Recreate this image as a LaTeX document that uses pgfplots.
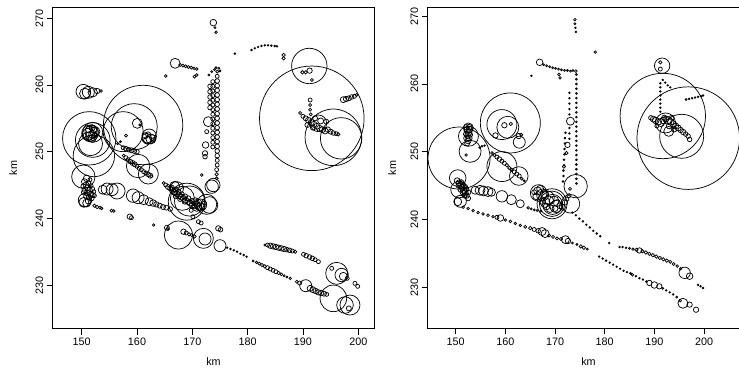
\documentclass[border=0pt]{standalone}
\usepackage{fontspec}
\setmainfont{Liberation Sans}
\usepackage{pgfplots}
\usepackage{pgfplotstable}
\pgfplotsset{compat=1.18}

\pgfplotstableread{
x y r
150.3 259.0 7.3
150.6 258.7 5.5
151.2 258.9 6
152.0 258.9 4.7
152.8 259.1 2.7
153.5 259.1 1.3
151.37 252.0 26.7
152.2 249.35 20.7
152.0 251.75 17.3
151.6 251.2 12
151.5 252.75 8.3
151.8 253.0 6.7
151.6 252.3 5
152.0 252.6 4
151.3 253.3 3.3
151.9 252.0 4
152.2 253.2 3
151.4 252.1 2.5
151.7 253.5 2
152.3 252.4 2.5
151.2 252.6 6
152.0 252.9 10
152.4 253.0 5
151.9 253.6 3
161.1 254.0 39.7
159.5 253.75 23
157.5 253.0 20
160.05 254.25 5
160.5 254.0 1
158.0 252.4 1.5
157.0 251.5 1
156.5 251.2 1
161.75 252.0 5
162.2 252.3 7.3
161.9 251.7 4
162.5 251.9 5
162.8 252.1 3
161.5 252.4 3
162.0 252.6 2.5
163.0 251.8 2
157.5 250.6 2
158.0 250.45 2.3
158.5 250.3 2.3
159.0 250.2 2.5
159.5 250.1 2.5
160.0 250.0 2.3
160.2 247.85 11.7
162.05 246.65 10
157.6 249.4 1.5
158.0 249.1 2
158.4 248.8 2
158.8 248.5 2.3
159.2 248.3 2.5
159.6 248.1 2.5
160.0 247.8 2
160.4 247.5 2
160.8 247.3 2
161.2 247.0 2
161.6 246.8 2
162.0 246.6 2.3
162.4 246.4 2.5
162.6 246.3 1.5
150.3 246.25 11.7
150.6 242.75 6.7
150.4 242.4 5
150.9 242.3 4
151.2 242.6 3
150.5 245.5 3
150.8 245.0 3
151.1 244.6 3
150.6 244.3 3
151.4 244.2 3
151.0 243.8 3
151.6 243.6 3
150.8 243.3 2.5
151.3 243.2 2.5
151.8 243.0 2.5
152.0 243.5 2.5
151.9 244.4 2.5
152.3 243.4 2
151.2 245.3 2.5
150.9 246.0 3.3
151.5 245.8 2
152.2 244.0 2
151.7 244.9 2
150.3 244.8 2.5
150.4 243.9 2.5
152.3 241.9 1.7
152.8 241.7 1.7
153.3 241.6 1.5
153.6 241.5 1.3
153.8 244.3 4.5
154.6 244.4 6
155.5 244.3 6
156.4 244.1 8
159.3 243.4 6.7
160.2 243.1 6
161.2 242.8 5
162.2 242.5 4
162.9 242.3 3.3
163.5 242.1 2.7
164.1 241.9 2.5
164.7 241.7 2.5
165.3 241.6 2.5
166.0 241.4 2.3
155.4 241.15 1.5
155.8 241.1 1.3
158.7 240.25 2.7
159.0 240.1 2
163.0 239.0 1.3
165.4 238.6 2.5
165.6 238.4 1.5
169.0 242.5 18.5
169.5 242.6 15
168.2 243.0 12
173.1 242.0 8.3
172.6 242.1 10
173.5 244.75 6.7
171.5 242.0 6
170.8 241.8 5
170.5 242.5 4
171.0 242.3 4
167.2 244.5 6.7
166.8 244.8 5
164.8 245.3 1.5
165.2 245.0 2
165.6 244.7 2.5
166.0 244.5 2.5
166.4 244.2 3
166.8 243.9 3
167.2 243.7 3
167.6 243.4 3
168.0 243.2 3
168.4 243.0 3
168.8 242.7 3
169.2 242.5 3
169.6 242.3 3
170.0 242.0 3
170.4 241.8 2.5
166.3 244.6 2.5
166.9 244.3 2.5
167.5 244.0 2.5
168.1 243.6 2.5
168.7 243.3 2.5
169.3 243.0 2.5
169.9 242.6 2.5
170.5 242.2 2.5
167.0 243.3 2.5
167.8 242.9 2.5
168.6 242.5 2.5
170.9 241.9 3
171.3 241.6 2.5
171.8 241.8 3
172.2 242.3 2
169.8 241.2 2
170.1 240.25 2
167.5 237.5 14
168.4 238.0 2.7
168.9 237.8 2
169.4 237.6 1.7
169.9 237.5 1.7
170.4 237.3 1.7
172.0 237.0 10
172.3 236.9 6
174.7 238.5 2.7
175.1 238.3 2.3
175.0 235.9 6
171.1 239.5 2
171.6 239.3 2
176.3 235.6 0.8
176.9 235.4 0.8
177.5 235.2 0.8
178.1 235.0 0.8
178.7 234.7 0.8
179.3 234.5 0.8
179.8 234.25 0.8
181.0 233.6 1
181.6 233.4 1.3
182.1 233.2 1.5
182.6 233.0 1.7
183.1 232.8 1.7
183.6 232.6 2
184.1 232.4 2
184.6 232.2 2
185.1 232.0 2
185.6 231.8 1.7
186.1 231.6 1.3
186.6 231.4 1
187.1 231.2 1
187.7 231.0 1.3
183.1 236.0 1
183.6 236.0 2
184.1 235.9 2.7
184.6 235.8 2.7
185.1 235.7 2.7
185.6 235.6 2.7
186.1 235.5 2.7
186.6 235.4 2.7
187.1 235.3 2.3
187.6 235.2 2.3
188.1 235.1 2
188.6 235.0 1.7
190.1 234.6 2
190.6 234.4 2.3
191.2 234.2 2.3
191.7 234.0 2.3
192.2 233.8 2
192.8 233.5 2
188.9 230.5 1.5
189.4 230.3 2
190.5 229.9 6
191.3 229.5 3
191.8 229.3 3
192.3 229.1 2.7
192.8 228.9 2.7
193.3 228.8 2.7
193.8 228.7 2.5
194.3 228.6 2
195.5 228.0 13.3
196.1 231.75 11
197.0 231.5 6.7
197.3 231.3 4
197.6 227.0 8.3
198.5 227.0 10
195.2 232.5 2
198.0 231.0 2
199.4 230.25 2
199.9 229.8 2
198.3 226.5 2.5
174.5 262.0 1.5
174.5 261.3 2
174.5 260.6 2.3
174.5 259.9 2.3
174.5 259.2 2.3
174.5 258.5 2.3
174.5 257.8 2.3
174.5 257.1 2.3
174.5 256.4 2.3
174.5 255.7 2.3
174.5 255.0 2.3
174.5 254.3 2.3
174.5 253.6 2.3
174.5 252.9 2.3
174.5 252.2 2.3
174.5 251.5 2.3
174.5 250.8 2.3
174.5 250.1 2.3
174.5 249.4 2.3
174.5 248.7 2
174.5 248.0 2
174.4 247.3 2
174.4 246.6 1.7
174.4 246.0 1.5
173.7 260.5 2
173.7 259.8 2
173.7 259.1 2
173.7 258.4 2
173.7 257.7 2
173.7 257.0 2
173.7 256.3 2
173.7 255.6 2
173.7 254.9 2
173.7 254.2 2
173.7 253.5 2
173.7 252.8 2
173.7 252.1 2
173.7 251.4 2
173.7 250.7 2
173.2 259.8 2.3
173.2 259.0 2.3
173.2 258.2 2.3
173.2 257.4 2.3
173.2 256.6 2.3
172.9 254.5 5
172.4 251.0 3.3
172.3 249.75 2.7
172.3 249.25 2.3
172.6 253.0 2
171.7 246.5 1.3
173.0 261.5 1
173.5 262.0 1
174.0 262.3 1
174.8 262.5 1
175.0 262.1 1
174.3 262.6 1
173.8 245.0 6.7
173.8 269.35 3.3
174.1 268.6 1
174.3 267.9 1.3
165.2 261.35 1.3
177.7 264.7 0.8
166.9 263.25 5
167.8 263.0 1.5
168.3 262.9 1.5
168.8 262.8 1.5
169.3 262.7 1.5
169.8 262.6 1.5
170.3 262.5 1.3
170.8 262.4 1.3
170.4 261.25 1.5
170.8 261.5 1.3
180.7 265.25 0.8
181.3 265.5 0.8
181.9 265.7 0.8
182.5 265.85 0.8
183.1 265.95 0.8
183.7 265.95 0.8
184.3 265.9 0.8
184.9 265.85 0.8
185.3 265.8 0.8
186.5 264.5 1.7
186.5 264.0 1.7
191.6 255.0 52.3
191.15 262.85 17.7
195.5 252.15 28.3
196.9 252.0 20.7
191.2 262.15 2.7
189.9 261.9 1.7
190.5 261.9 1.7
191.6 260.75 1.5
191.3 257.75 2
191.3 257.0 1.5
191.3 256.3 1.5
191.4 255.6 1.5
192.8 254.25 8.3
189.5 255.8 1.5
190.0 255.3 2
190.5 255.0 2.5
191.0 254.7 3
191.5 254.4 3
192.0 254.1 3
192.5 253.8 3
193.0 253.5 3
193.5 253.3 3
194.0 253.1 3
194.5 253.3 2.7
195.0 253.0 2.5
195.5 252.8 2.3
196.0 252.7 2
196.4 252.6 1.7
190.8 254.0 2.5
191.8 253.6 2.5
193.2 254.6 3
194.2 254.5 2.5
192.2 255.0 2.5
197.3 257.8 3
197.8 257.9 2.7
198.3 258.0 2.5
198.8 258.2 2.3
199.3 258.3 2
199.7 258.5 1.5
}\lefttab

\pgfplotstableread{
x y r
191.7 255.27 42.7
196.83 252.0 51.3
195.5 252.27 22
191.57 262.7 7.7
191.2 263.2 1.7
191.2 262.2 2
192.24 254.24 10
192.9 253.0 5
189.3 255.0 2.3
189.8 254.8 3
190.3 254.6 3.3
190.8 254.4 3.3
191.3 254.3 4
191.8 254.6 3.3
192.3 254.8 3
192.8 254.6 4
193.3 254.4 3.3
193.8 254.1 3.3
194.3 253.8 3
194.8 253.5 3
195.3 253.2 2.7
195.8 252.9 2.7
196.3 252.6 2.3
196.8 252.3 2.3
197.1 251.8 2.3
193.0 253.8 3
194.0 253.3 2.7
192.0 255.0 2.7
193.5 255.0 2.5
190.5 253.8 2
191.2 260.1 0.8
191.2 259.5 0.8
191.2 258.9 0.8
191.2 258.3 0.8
191.2 257.7 0.8
191.2 257.1 0.8
191.2 256.5 0.8
191.2 255.9 0.8
191.7 260.6 0.8
192.2 260.2 0.8
192.7 259.8 0.8
193.2 259.5 0.8
196.4 257.7 1
197.0 257.8 0.8
197.6 257.9 0.8
198.2 258.0 0.8
198.8 258.1 0.8
199.4 258.2 0.8
199.8 258.3 0.8
150.67 249.06 31
161.0 254.24 30
159.3 254.0 15
160.5 253.6 11
159.8 253.9 2.7
161.1 254.1 1.7
162.8 251.4 6
162.7 252.3 2.7
163.2 252.5 1.7
158.0 252.4 2.7
152.56 253.5 5
152.56 252.27 10
152.9 250.05 11
152.3 253.2 3.3
152.6 252.8 3.3
152.4 252.4 3
152.7 252.0 3
152.2 252.0 3
152.5 251.6 3
152.8 253.3 3
152.1 252.6 2.7
152.9 252.5 2.5
152.3 251.2 2.5
152.1 253.6 2.7
152.7 253.6 3
152.1 249.5 1.3
154.8 250.6 0.8
155.3 250.8 0.8
155.8 250.9 0.8
150.4 246.1 8.3
150.67 244.4 8.3
150.94 242.66 6
150.4 242.6 4
150.3 245.7 3
150.7 245.4 3
151.0 245.0 3
151.3 244.7 3
151.6 244.3 3
151.9 243.9 3
152.2 243.5 2.7
152.5 243.1 2.5
150.6 245.0 2.7
151.0 244.4 2.7
151.4 244.0 2.7
151.8 243.5 2.5
151.1 245.5 2.5
151.5 245.1 2.5
151.9 244.8 2.5
152.2 244.4 2.3
152.6 244.0 2.3
153.9 244.3 4
154.9 244.3 5
155.6 244.2 5
156.5 244.1 5
157.2 244.0 4
159.3 243.4 5.7
161.2 242.9 5
163.0 242.3 4
164.6 241.7 1.3
165.2 241.55 1
165.8 241.4 1
166.4 241.3 1
167.1 241.2 1
159.3 247.8 15
162.7 246.4 9.3
157.3 249.8 1.3
157.8 249.5 1.7
158.3 249.2 2
158.8 248.9 2.3
159.3 248.6 2
159.8 248.3 2
160.3 248.0 1.7
160.8 247.6 1.7
161.3 247.3 1.7
161.8 247.0 2
162.3 246.7 2
162.8 246.4 2
163.3 246.0 1.3
163.8 245.7 1
169.4 242.3 15
169.4 242.3 12.7
169.5 242.2 10
166.7 243.9 8.3
173.1 242.3 9.3
168.5 243.2 6.7
167.5 243.6 6
170.2 241.9 6
168.0 242.5 5
166.5 244.2 4
167.0 244.5 3.5
167.8 243.8 4
168.8 242.8 4.5
169.8 242.7 5
170.4 242.4 3.5
171.0 242.0 3
171.5 241.8 3
170.0 241.6 3
169.0 241.6 4
168.3 241.9 3.3
167.4 242.7 3.3
166.2 243.4 3.3
165.8 244.0 2.5
172.0 242.5 2.7
172.4 243.0 2
172.8 243.5 2
173.0 244.5 1.5
174.16 244.9 11.7
174.3 261.4 0.9
174.3 260.7 0.9
174.3 260.0 0.9
174.3 259.3 0.9
174.3 258.6 0.9
174.3 257.9 0.9
174.3 257.2 0.9
174.3 256.5 0.9
174.3 255.8 0.9
174.3 255.1 0.9
174.3 254.4 0.9
174.3 253.7 0.9
174.3 253.0 0.9
174.3 252.3 0.9
174.3 251.6 0.9
174.3 250.9 0.9
174.3 250.2 0.9
174.3 249.5 0.9
174.3 248.8 0.9
174.3 248.1 0.9
174.3 247.4 0.9
174.3 246.7 0.9
174.3 246.0 0.9
174.3 245.3 0.9
172.9 258.7 0.8
172.9 257.9 0.8
172.9 257.1 0.8
172.9 256.3 0.8
172.9 255.5 0.8
172.9 253.5 0.8
172.9 252.7 0.8
172.9 251.9 0.8
172.1 252.8 0.9
172.0 252.0 0.9
172.0 251.2 0.9
171.9 250.4 0.9
171.9 249.6 0.9
171.8 248.8 0.9
171.8 248.0 0.9
171.7 247.2 0.9
171.7 246.4 0.9
171.6 245.6 0.9
173.1 254.5 4
172.5 251.0 2.7
172.3 249.8 1.7
171.8 247.8 1.7
166.9 263.2 3.3
167.7 262.85 1
168.3 262.7 1
168.9 262.55 1
169.5 262.4 1
170.1 262.3 1
170.7 262.2 1
171.3 262.1 1
171.9 262.0 1
172.5 262.0 1
173.1 261.9 1
173.6 262.0 1
174.2 261.9 1.3
170.8 261.4 1.3
171.0 260.9 1.3
174.0 269.5 1.3
174.0 268.9 1
174.1 268.3 0.8
174.2 267.7 0.8
178.1 264.7 1.3
165.25 261.2 0.8
151.5 241.8 1.3
152.5 241.6 1.3
153.5 241.3 1.3
154.5 241.0 1.3
155.5 240.8 1.3
156.5 240.6 1.3
157.5 240.4 1.3
158.3 240.3 2
159.0 240.2 3.3
160.0 239.9 1.3
161.0 239.7 1.3
162.0 239.4 1.3
163.0 239.1 1.3
164.0 238.9 1.5
165.0 238.7 1.7
165.8 238.5 2
166.6 238.3 2.3
167.4 238.2 4
168.0 237.9 4
168.8 237.6 1.5
169.6 237.4 1.5
170.4 237.2 1.5
171.2 237.1 1.7
172.1 237.0 4
172.6 236.8 2.7
173.5 236.5 1
174.4 236.3 1
175.2 236.0 1.7
175.8 235.8 1.7
176.5 235.6 1
173.5 241.0 0.8
174.2 240.6 0.8
174.9 240.1 0.8
175.6 239.7 0.8
176.3 239.2 0.8
177.0 238.8 0.8
177.7 238.3 0.8
178.4 237.9 0.8
179.1 237.5 0.8
180.9 236.5 0.8
183.0 235.9 0.8
183.6 235.9 0.8
184.3 235.8 0.8
185.0 235.7 1
185.7 235.6 1.3
186.4 235.5 1.7
187.0 235.4 2.7
187.6 235.3 1.7
188.3 235.1 1.7
189.0 234.9 1.7
189.7 234.7 1.7
190.4 234.5 1.7
191.1 234.3 1.7
191.8 234.1 1.7
192.5 233.9 1.7
193.2 233.7 1.5
193.9 233.4 1.5
194.6 233.1 1.3
195.3 232.7 1.3
196.1 232.1 5.7
197.1 231.6 3.3
198.8 230.3 0.8
199.3 230.1 0.8
199.8 229.85 0.8
178.9 234.5 0.8
179.6 234.2 0.8
180.3 233.9 0.8
181.0 233.6 0.8
181.7 233.3 0.8
182.4 233.0 0.8
183.1 232.7 0.8
183.8 232.4 0.8
184.5 232.2 0.8
185.2 232.0 1
185.6 231.8 1.3
186.3 231.6 0.8
187.0 231.3 0.8
187.7 231.1 0.8
188.4 230.8 1
189.0 230.6 2.7
190.0 230.3 3.3
191.0 230.1 2.7
191.7 229.8 1
192.4 229.5 0.8
193.1 229.2 0.8
193.8 228.9 0.8
194.5 228.5 1
195.2 228.0 1.3
195.75 227.6 5
197.1 227.4 2.7
198.4 226.65 2.7
}\righttab

\pgfplotsset{
  rstyle/.style={
    scale only axis, anchor=south west,
    /pgf/number format/assume math mode=true,
    tick label style={font=\fontsize{10.8}{12}\selectfont},
    label style={font=\fontsize{10.8}{12}\selectfont},
    xtick={150,160,170,180,190,200},
    ytick={230,240,250,260,270},
    xtick pos=left, ytick pos=left,
    tick align=outside, major tick length=6pt,
    every tick/.style={black, line width=0.7pt},
    axis line style={black, line width=0.75pt},
    yticklabel style={rotate=90, anchor=south},
    xticklabel style={anchor=north},
    xlabel={km}, ylabel={km},
    x label style={at={(axis description cs:0.5,-0.1033)}, anchor=center},
  },
  bub/.style={scatter, only marks, mark=o, line width=0.72pt,
    scatter/use mapped color={draw=black, fill=black},
    visualization depends on={\thisrow{r} \as \rr},
    scatter/@pre marker code/.append style={/tikz/mark size=\rr},
  },
}

\begin{document}
\begin{tikzpicture}[x=1pt,y=1pt]
\useasboundingbox (0,0) rectangle (739,376);
\begin{axis}[rstyle, at={(52.7pt,47.3pt)}, width=321.6pt, height=321.4pt,
  xmin=144.76, xmax=202.9, ymin=223.45, ymax=271.65,
  y label style={at={(axis description cs:-0.1225,0.5)}, anchor=center, rotate=0},
  ]
\addplot[bub] table[x=x,y=y] {\lefttab};
\end{axis}
\begin{axis}[rstyle, at={(427.7pt,47.7pt)}, width=321.6pt, height=321.0pt,
  xmin=144.36, xmax=209.12, ymin=223.9, ymax=271.33,
  y label style={at={(axis description cs:-0.110,0.5)}, anchor=center, rotate=0},
  ]
\addplot[bub] table[x=x,y=y] {\righttab};
\end{axis}
\end{tikzpicture}
\end{document}
